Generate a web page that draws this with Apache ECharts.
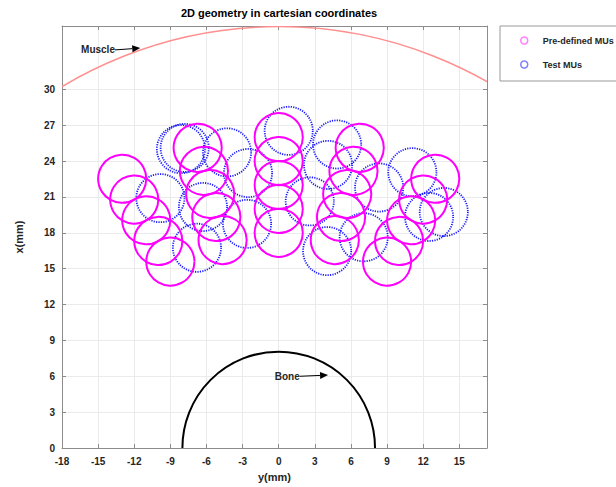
<!DOCTYPE html>
<html>
<head>
<meta charset="utf-8">
<script src="https://cdn.jsdelivr.net/npm/echarts@6/dist/echarts.min.js"></script>
<style>html,body{margin:0;padding:0;background:#fff;}#c{width:616px;height:487px;}</style>
</head>
<body>
<div id="c"></div>
<script>
// ---- data (mm) ----
const xTicks = [-18, -15, -12, -9, -6, -3, 0, 3, 6, 9, 12, 15];
const yTicks = [0, 3, 6, 9, 12, 15, 18, 21, 24, 27, 30];
const muRadius = 2;
// Pre-defined MUs: horizontal (y mm) and vertical (x mm) centre coordinates
const predefinedY = [-9.0, -10.0, -11.0, -12.0, -13.0,
                     -4.66, -5.18, -5.69, -6.21, -6.73,
                      0, 0, 0, 0, 0,
                      4.66, 5.18, 5.69, 6.21, 6.73,
                      9.0, 10.0, 11.0, 12.0, 13.0];
const predefinedX = [15.59, 17.32, 19.05, 20.78, 22.52,
                     17.39, 19.32, 21.25, 23.18, 25.11,
                     18, 20, 22, 24, 26,
                     17.39, 19.32, 21.25, 23.18, 25.11,
                     15.59, 17.32, 19.05, 20.78, 22.52];
// Test MUs
const testY = [0.83, -8.12, -7.81, -4.29, -2.55, -9.83, -6.29, -2.63, -6.79,
               4.85, 4.10, 8.34, 11.10, 13.71, 12.49, 4.02, 7.06, 2.58];
const testX = [26.53, 25.00, 25.10, 24.73, 23.00, 20.90, 20.16, 18.75, 16.75,
               25.39, 23.68, 21.79, 23.07, 19.74, 19.33, 16.47, 17.63, 20.63];
const muscleRadius = 35;
const boneRadius = 8;
// annotations: label, text anchor (y,x), arrow tip (y,x)
const annLabels = ['Muscle', 'Bone'];
const annTextY = [-13.6, 1.75];
const annTextX = [33.3, 6.0];
const annTipY = [-11.5, 4.1];
const annTipX = [33.45, 6.1];

const FONT = 'Liberation Sans, Arial, sans-serif';
const predefinedData = predefinedY.map((y, i) => [y, predefinedX[i], muRadius]);
const testData = testY.map((y, i) => [y, testX[i], muRadius]);

function circleItem(color, dash, width) {
  return function (params, api) {
    const c = api.coord([api.value(0), api.value(1)]);
    const r = api.size([api.value(2), api.value(2)])[0];
    return {
      type: 'circle',
      shape: { cx: c[0], cy: c[1], r: r },
      style: { fill: 'none', stroke: color, lineWidth: width, lineDash: dash }
    };
  };
}
function arcItem(color, width) {
  return function (params, api) {
    const c = api.coord([api.value(0), api.value(1)]);
    const r = api.size([api.value(2), 0])[0];
    return {
      type: 'arc',
      shape: { cx: c[0], cy: c[1], r: r, startAngle: Math.PI, endAngle: 2 * Math.PI, clockwise: true },
      style: { fill: 'none', stroke: color, lineWidth: width }
    };
  };
}
function annItem(params, api) {
  const i = params.dataIndex;
  const a = api.coord([annTextY[i], annTextX[i]]);
  const t = api.coord([annTipY[i], annTipX[i]]);
  const ang = Math.atan2(t[1] - a[1], t[0] - a[0]);
  const L = 8, W = 3.5;
  const bx = t[0] - L * Math.cos(ang), by = t[1] - L * Math.sin(ang);
  const px = -Math.sin(ang) * W, py = Math.cos(ang) * W;
  return {
    type: 'group',
    children: [
      { type: 'text', style: { text: annLabels[i], x: a[0], y: a[1], align: 'right', verticalAlign: 'middle',
          font: 'bold 10px ' + FONT, fill: '#262626' } },
      { type: 'line', shape: { x1: a[0], y1: a[1], x2: bx, y2: by }, style: { stroke: '#000', lineWidth: 1 } },
      { type: 'polygon', shape: { points: [[t[0], t[1]], [bx + px, by + py], [bx - px, by - py]] }, style: { fill: '#000' } }
    ]
  };
}

const chart = echarts.init(document.getElementById('c'), null, { renderer: 'svg' });
const axisLabelStyle = { color: '#262626', fontSize: 10, fontWeight: 'bold', fontFamily: FONT };
chart.setOption({
  animation: false,
  backgroundColor: '#fff',
  title: {
    text: '2D geometry in cartesian coordinates',
    left: 274, top: 2, textAlign: 'center',
    textStyle: { fontSize: 11, fontWeight: 'bold', color: '#000', fontFamily: FONT }
  },
  legend: {
    orient: 'vertical', left: 500, top: 26,
    padding: [10, 12, 12, 20], itemGap: 15, itemWidth: 27, itemHeight: 7,
    borderColor: '#999', borderWidth: 1, backgroundColor: '#fff',
    textStyle: { fontSize: 9, fontWeight: 'bold', color: '#262626', fontFamily: FONT },
    data: [
      { name: 'Pre-defined MUs', icon: 'circle', itemStyle: { color: 'transparent', borderColor: '#ff7fff', borderWidth: 1.5 } },
      { name: 'Test MUs', icon: 'circle', itemStyle: { color: 'transparent', borderColor: '#7f7fff', borderWidth: 1.5 } }
    ]
  },
  grid: { left: 62, right: 129, top: 26, bottom: 37 },
  xAxis: [{
    type: 'value', min: -18, max: 17.3, position: 'bottom',
    name: 'y(mm)', nameLocation: 'middle', nameGap: 23,
    nameTextStyle: { fontSize: 11, fontWeight: 'bold', color: '#262626', fontFamily: FONT },
    axisLine: { show: true, onZero: false, lineStyle: { color: '#8c8c8c', width: 1 } },
    axisTick: { show: true, inside: true, length: 4, customValues: xTicks, lineStyle: { color: '#8c8c8c' } },
    axisLabel: Object.assign({ customValues: xTicks, margin: 8 }, axisLabelStyle),
    splitLine: { show: true, lineStyle: { color: '#ebebeb', width: 1 } }
  }, {
    type: 'value', min: -18, max: 17.3, position: 'top',
    axisLine: { show: true, onZero: false, lineStyle: { color: '#8c8c8c', width: 1 } },
    axisTick: { show: true, inside: true, length: 4, customValues: xTicks, lineStyle: { color: '#8c8c8c' } },
    axisLabel: { show: false }, splitLine: { show: false }
  }],
  yAxis: [{
    type: 'value', min: 0, max: 35.3, position: 'left',
    name: 'x(mm)', nameLocation: 'middle', nameGap: 38, nameRotate: 90,
    nameTextStyle: { fontSize: 11, fontWeight: 'bold', color: '#262626', fontFamily: FONT },
    axisLine: { show: true, onZero: false, lineStyle: { color: '#8c8c8c', width: 1 } },
    axisTick: { show: true, inside: true, length: 4, customValues: yTicks, lineStyle: { color: '#8c8c8c' } },
    axisLabel: Object.assign({ customValues: yTicks, margin: 7 }, axisLabelStyle),
    splitLine: { show: true, lineStyle: { color: '#ebebeb', width: 1 } }
  }, {
    type: 'value', min: 0, max: 35.3, position: 'right',
    axisLine: { show: true, onZero: false, lineStyle: { color: '#8c8c8c', width: 1 } },
    axisTick: { show: true, inside: true, length: 4, customValues: yTicks, lineStyle: { color: '#8c8c8c' } },
    axisLabel: { show: false }, splitLine: { show: false }
  }],
  series: [
    { name: 'Muscle', type: 'custom', clip: true, silent: true, renderItem: arcItem('#ff8f8f', 1.5),
      data: [[0, 0, muscleRadius]], encode: { x: 0, y: 1 }, z: 2 },
    { name: 'Bone', type: 'custom', clip: true, silent: true, renderItem: arcItem('#000000', 2),
      data: [[0, 0, boneRadius]], encode: { x: 0, y: 1 }, z: 2 },
    { name: 'Test MUs', type: 'custom', clip: true, renderItem: circleItem('#1a1aff', [1.2, 1.2], 1.8),
      itemStyle: { color: '#7f7fff' }, data: testData, encode: { x: 0, y: 1 }, z: 3 },
    { name: 'Pre-defined MUs', type: 'custom', clip: true, renderItem: circleItem('#ff00ff', null, 2),
      itemStyle: { color: '#ff7fff' }, data: predefinedData, encode: { x: 0, y: 1 }, z: 4 },
    { name: 'Annotations', type: 'custom', silent: true, renderItem: annItem,
      data: annLabels.map((n, i) => [annTextY[i], annTextX[i]]), encode: { x: 0, y: 1 }, z: 5 }
  ]
});
</script>
</body>
</html>
